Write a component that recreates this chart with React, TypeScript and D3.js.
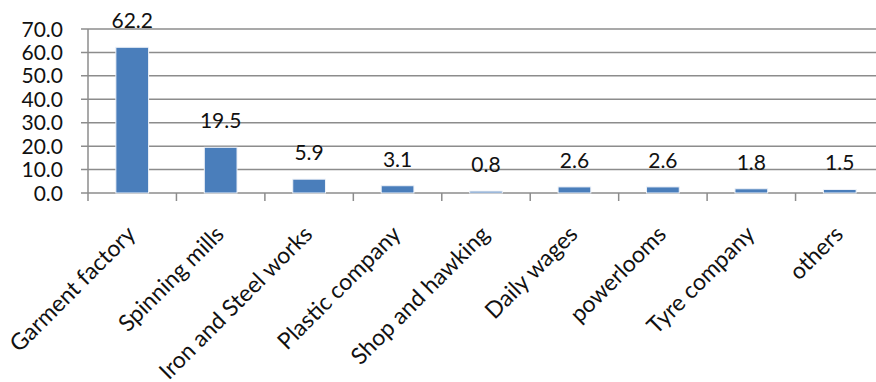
import React from "react";
import * as d3 from "d3";

// Share of workers by occupation (%)
const categories = [
  "Garment factory",
  "Spinning mills",
  "Iron and Steel works",
  "Plastic company",
  "Shop and hawking",
  "Daily wages",
  "powerlooms",
  "Tyre company",
  "others",
];
const values = [62.2, 19.5, 5.9, 3.1, 0.8, 2.6, 2.6, 1.8, 1.5];
const yTicks = [0, 10, 20, 30, 40, 50, 60, 70];

const W = 876;
const H = 382;
const left = 88;
const right = 884;
const top = 29;
const bottom = 193;
const font = "Lato, 'Open Sans', sans-serif";

export default function App() {
  const x = d3.scaleBand<string>().domain(categories).range([left, right]).paddingInner(0).paddingOuter(0);
  const y = d3.scaleLinear().domain([0, 70]).range([bottom, top]);
  const bw = x.bandwidth() * 0.37;
  const grid = "#8c8c8c";

  return (
    <svg width={W} height={H} style={{ position: "absolute", left: 0, top: 0, background: "#fff" }}>
      {/* gridlines and y ticks */}
      {yTicks.map((t) => (
        <g key={t}>
          <line x1={left - 7} x2={right} y1={y(t)} y2={y(t)} stroke={grid} strokeWidth={1.5} />
          <text x={63} y={y(t)} dy="0.36em" textAnchor="end" fontFamily={font} fontSize={21} fill="#111">
            {d3.format(".1f")(t)}
          </text>
        </g>
      ))}
      <line x1={left} x2={left} y1={top} y2={bottom} stroke={grid} strokeWidth={1.5} />
      {/* x ticks at band boundaries */}
      {categories.map((c) => (
        <line key={c} x1={x(c)!} x2={x(c)!} y1={bottom} y2={bottom + 8} stroke={grid} strokeWidth={1.5} />
      ))}
      {/* bars */}
      {categories.map((c, i) => {
        const cx = x(c)! + x.bandwidth() / 2;
        return (
          <rect
            key={c}
            x={cx - bw / 2}
            y={y(values[i])}
            width={bw}
            height={bottom - y(values[i])}
            fill="#4a7ebb"
            stroke="#eef2f8"
            strokeWidth={1}
          />
        );
      })}
      {/* value labels */}
      {categories.map((c, i) => {
        const cx = x(c)! + x.bandwidth() / 2;
        return (
          <text key={c} x={cx} y={y(values[i]) - 19} textAnchor="middle" fontFamily={font} fontSize={21} fill="#111">
            {d3.format(".1f")(values[i])}
          </text>
        );
      })}
      {/* category labels */}
      {categories.map((c) => {
        const cx = x(c)! + x.bandwidth() / 2;
        return (
          <text
            key={c}
            transform={`translate(${cx - 1},${bottom + 37}) rotate(-45)`}
            textAnchor="end"
            dy="0.35em"
            fontFamily={font}
            fontSize={23}
            fill="#111"
          >
            {c}
          </text>
        );
      })}
    </svg>
  );
}
